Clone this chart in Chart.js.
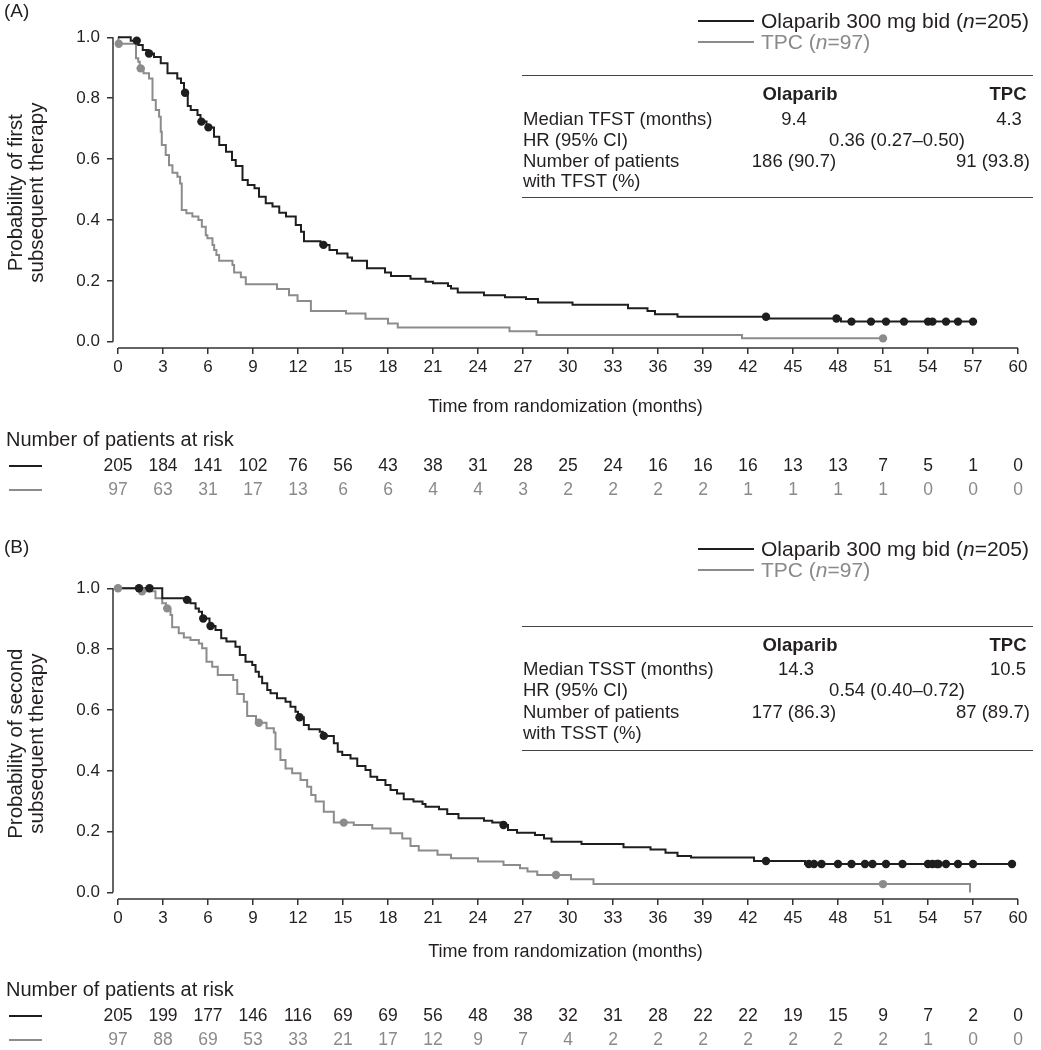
<!DOCTYPE html>
<html>
<head>
<meta charset="utf-8">
<script src="https://cdn.jsdelivr.net/npm/chart.js@4.4.1/dist/chart.umd.min.js"></script>
<style>
  body { margin: 0; background: #fff; width: 1041px; height: 1050px; position: relative; overflow: hidden;
         font-family: "Liberation Sans", Arial, sans-serif; color: #231f20; }
  canvas { position: absolute; left: 0; }
  .t { position: absolute; white-space: nowrap; font-size: 18.5px; transform: translateY(-50%); }
  .lg { font-size: 21px; }
  .c { transform: translate(-50%, -50%); }
  .b { font-weight: bold; }
  .g { color: #8a8a8a; }
  .rule { position: absolute; height: 0; border-top: 1.5px solid #444; }
  .sw { position: absolute; height: 0; width: 56px; border-top: 2px solid #1e1e1e; }
  .sw.g { border-top-color: #8c8c8c; }
</style>
</head>
<body>
<canvas id="chartA" width="1041" height="520" style="top:0"></canvas>
<canvas id="chartB" width="1041" height="530" style="top:520px"></canvas>

<!-- panel A legend + table -->
<div class="t" style="left:4px;top:11px;font-size:19px">(A)</div>
<div class="sw" style="left:698px;top:20px"></div>
<div class="t lg" style="left:761px;top:21px">Olaparib 300 mg bid (<i>n</i>=205)</div>
<div class="sw g" style="left:698px;top:41px"></div>
<div class="t lg g" style="left:761px;top:42px">TPC (<i>n</i>=97)</div>
<div class="rule" style="left:522px;width:511px;top:75px"></div>
<div class="t c b" style="left:800px;top:94px">Olaparib</div>
<div class="t c b" style="left:1008px;top:94px">TPC</div>
<div class="t" style="left:523px;top:119px">Median TFST (months)</div>
<div class="t c" style="left:794px;top:119px">9.4</div>
<div class="t c" style="left:1009px;top:119px">4.3</div>
<div class="t" style="left:523px;top:140px">HR (95% CI)</div>
<div class="t c" style="left:897px;top:140px">0.36 (0.27–0.50)</div>
<div class="t" style="left:523px;top:161px">Number of patients</div>
<div class="t c" style="left:794px;top:161px">186 (90.7)</div>
<div class="t c" style="left:993px;top:161px">91 (93.8)</div>
<div class="t" style="left:523px;top:181px">with TFST (%)</div>
<div class="rule" style="left:522px;width:511px;top:197px"></div>

<!-- panel B legend + table -->
<div class="t" style="left:4px;top:547px;font-size:19px">(B)</div>
<div class="sw" style="left:698px;top:548px"></div>
<div class="t lg" style="left:761px;top:549px">Olaparib 300 mg bid (<i>n</i>=205)</div>
<div class="sw g" style="left:698px;top:569px"></div>
<div class="t lg g" style="left:761px;top:570px">TPC (<i>n</i>=97)</div>
<div class="rule" style="left:522px;width:511px;top:626px"></div>
<div class="t c b" style="left:800px;top:645px">Olaparib</div>
<div class="t c b" style="left:1008px;top:645px">TPC</div>
<div class="t" style="left:523px;top:669px">Median TSST (months)</div>
<div class="t c" style="left:796px;top:669px">14.3</div>
<div class="t c" style="left:1008px;top:669px">10.5</div>
<div class="t" style="left:523px;top:690px">HR (95% CI)</div>
<div class="t c" style="left:897px;top:690px">0.54 (0.40–0.72)</div>
<div class="t" style="left:523px;top:712px">Number of patients</div>
<div class="t c" style="left:794px;top:712px">177 (86.3)</div>
<div class="t c" style="left:993px;top:712px">87 (89.7)</div>
<div class="t" style="left:523px;top:733px">with TSST (%)</div>
<div class="rule" style="left:522px;width:511px;top:750px"></div>

<script>
// axis ticks (months / probability)
const xTicks = [0, 3, 6, 9, 12, 15, 18, 21, 24, 27, 30, 33, 36, 39, 42, 45, 48, 51, 54, 57, 60];
const yTicks = [0, 0.2, 0.4, 0.6, 0.8, 1.0];

// (A) time to first subsequent therapy - step times and survival
const olapA_t = [0, 0.85, 1.35, 1.65, 2.0, 2.4, 2.85, 3.3, 3.95, 4.2, 4.4, 4.65, 4.85, 5.3, 5.5, 5.9, 6.4, 6.75, 7.2, 7.6, 7.85, 8.3, 8.65, 9.1, 9.4, 9.85, 10.3, 10.75, 11.2, 11.85, 12.2, 12.4, 13.5, 14.1, 14.6, 15.3, 15.6, 16.6, 17.8, 18.2, 19.5, 20.5, 21.0, 22.0, 22.2, 22.65, 24.4, 25.8, 27.2, 28.0, 30.3, 34.0, 35.3, 35.8, 37.3, 43.3, 48.2, 57.0];
const olapA_s = [1.0, 0.989, 0.975, 0.958, 0.947, 0.935, 0.915, 0.882, 0.865, 0.85, 0.818, 0.774, 0.761, 0.745, 0.723, 0.704, 0.673, 0.646, 0.624, 0.597, 0.577, 0.531, 0.515, 0.504, 0.476, 0.455, 0.444, 0.424, 0.411, 0.383, 0.361, 0.33, 0.318, 0.301, 0.29, 0.277, 0.266, 0.241, 0.227, 0.216, 0.207, 0.197, 0.192, 0.183, 0.175, 0.162, 0.153, 0.146, 0.14, 0.129, 0.121, 0.11, 0.101, 0.09, 0.082, 0.076, 0.066, 0.066];
const olapA_cens = [1.25, 2.07, 4.47, 5.56, 6.03, 13.7, 43.2, 47.9, 48.9, 50.2, 51.2, 52.4, 54.0, 54.3, 55.2, 56.0, 57.0];
const tpcA_t = [0, 0.03, 1.2, 1.35, 1.45, 1.7, 2.07, 2.3, 2.52, 2.74, 2.85, 2.92, 3.18, 3.4, 3.63, 3.96, 4.14, 4.25, 4.56, 4.96, 5.36, 5.59, 5.85, 5.96, 6.3, 6.41, 6.56, 6.74, 7.63, 7.74, 8.19, 8.52, 10.6, 11.4, 11.97, 12.86, 15.2, 16.5, 18.0, 18.65, 26.1, 27.9, 41.6, 51.0];
const tpcA_s = [1.0, 0.979, 0.931, 0.92, 0.898, 0.882, 0.865, 0.794, 0.761, 0.739, 0.69, 0.646, 0.613, 0.58, 0.555, 0.542, 0.52, 0.433, 0.422, 0.411, 0.4, 0.378, 0.35, 0.34, 0.318, 0.301, 0.285, 0.266, 0.252, 0.227, 0.212, 0.189, 0.173, 0.153, 0.134, 0.101, 0.093, 0.075, 0.06, 0.047, 0.034, 0.022, 0.011, 0.011];
const tpcA_cens = [0.05, 1.51, 51.0];
const riskA_olap = [205, 184, 141, 102, 76, 56, 43, 38, 31, 28, 25, 24, 16, 16, 16, 13, 13, 7, 5, 1, 0];
const riskA_tpc = [97, 63, 31, 17, 13, 6, 6, 4, 4, 3, 2, 2, 2, 2, 1, 1, 1, 1, 0, 0, 0];

// (B) time to second subsequent therapy
const olapB_t = [0, 2.95, 4.4, 4.83, 5.17, 5.39, 5.6, 6.1, 6.5, 6.88, 7.23, 7.83, 8.12, 8.5, 8.95, 9.17, 9.39, 9.61, 9.95, 10.17, 10.6, 11.17, 11.5, 11.83, 12.0, 12.39, 12.72, 13.45, 13.65, 14.39, 14.65, 14.95, 15.5, 15.95, 16.5, 16.83, 17.28, 17.83, 18.17, 18.6, 19.05, 19.7, 20.3, 20.5, 21.4, 21.95, 22.7, 24.4, 24.95, 25.6, 26.0, 26.6, 27.8, 28.4, 28.9, 30.9, 33.7, 35.5, 36.5, 37.3, 38.2, 42.4, 45.8, 59.6];
const olapB_s = [1.0, 0.967, 0.962, 0.951, 0.934, 0.923, 0.901, 0.876, 0.863, 0.836, 0.825, 0.808, 0.781, 0.759, 0.748, 0.726, 0.709, 0.688, 0.666, 0.655, 0.639, 0.627, 0.611, 0.594, 0.576, 0.551, 0.537, 0.529, 0.515, 0.491, 0.463, 0.452, 0.441, 0.416, 0.403, 0.381, 0.37, 0.354, 0.337, 0.326, 0.307, 0.299, 0.291, 0.282, 0.274, 0.258, 0.244, 0.236, 0.23, 0.222, 0.206, 0.197, 0.189, 0.178, 0.167, 0.16, 0.149, 0.142, 0.131, 0.12, 0.115, 0.104, 0.094, 0.094];
const olapB_cens = [1.4, 2.1, 4.6, 5.68, 6.17, 12.1, 13.72, 25.7, 43.2, 46.05, 46.4, 46.9, 48.0, 48.9, 49.8, 50.3, 51.2, 52.3, 54.0, 54.3, 54.6, 54.7, 55.2, 56.0, 57.0, 59.6];
const tpcB_t = [0, 1.4, 2.5, 2.95, 3.2, 3.5, 3.61, 4.05, 4.39, 4.83, 5.39, 5.61, 5.9, 6.28, 6.65, 7.68, 7.95, 8.39, 8.61, 9.2, 9.9, 10.39, 10.5, 10.83, 11.17, 11.61, 12.17, 12.61, 12.88, 13.17, 13.72, 14.39, 15.72, 16.95, 18.17, 18.95, 19.5, 20.05, 21.3, 22.2, 24.0, 25.7, 26.8, 27.3, 27.95, 30.2, 31.7, 56.8];
const tpcB_s = [1.0, 0.99, 0.967, 0.951, 0.934, 0.912, 0.872, 0.852, 0.838, 0.83, 0.819, 0.803, 0.759, 0.742, 0.715, 0.699, 0.653, 0.627, 0.58, 0.558, 0.54, 0.526, 0.471, 0.436, 0.408, 0.392, 0.37, 0.348, 0.321, 0.299, 0.266, 0.23, 0.222, 0.211, 0.195, 0.178, 0.153, 0.138, 0.124, 0.113, 0.102, 0.091, 0.08, 0.069, 0.058, 0.044, 0.028, 0.0];
const tpcB_cens = [0.0, 1.6, 3.28, 9.39, 15.05, 29.2, 51.0];
const riskB_olap = [205, 199, 177, 146, 116, 69, 69, 56, 48, 38, 32, 31, 28, 22, 22, 19, 15, 9, 7, 2, 0];
const riskB_tpc = [97, 88, 69, 53, 33, 21, 17, 12, 9, 7, 4, 2, 2, 2, 2, 2, 2, 2, 1, 0, 0];

const BLACK = '#1e1e1e';
const GRAY = '#8c8c8c';
const AXIS = '#333333';
const FONT_FAMILY = '"Liberation Sans", Arial, sans-serif';

Chart.defaults.font.family = FONT_FAMILY;
Chart.defaults.font.size = 17;
Chart.defaults.color = '#231f20';

// value of the step curve at time t (used to sit the censor marks on the line)
function stepAt(ts, ss, t) {
  let v = ss[0];
  for (let i = 0; i < ts.length; i++) {
    if (ts[i] <= t) v = ss[i];
  }
  return v;
}

function curve(ts, ss) {
  return ts.map((t, i) => ({ x: t, y: ss[i] }));
}

function marks(ts, ss, cens) {
  return cens.map(t => ({ x: t, y: stepAt(ts, ss, t) }));
}

function kmExtras(risk) {
  return {
    id: 'kmExtras',
    afterDraw(chart) {
      const ctx = chart.ctx;
      const xs = chart.scales.x, ys = chart.scales.y;
      ctx.save();
      // separate axis lines, spanning first to last tick only
      ctx.strokeStyle = AXIS;
      ctx.lineWidth = 1.5;
      ctx.beginPath();
      ctx.moveTo(ys.right, ys.getPixelForValue(yTicks[yTicks.length - 1]));
      ctx.lineTo(ys.right, ys.getPixelForValue(yTicks[0]));
      ctx.moveTo(xs.getPixelForValue(xTicks[0]), xs.top);
      ctx.lineTo(xs.getPixelForValue(xTicks[xTicks.length - 1]), xs.top);
      ctx.stroke();

      // number at risk table
      ctx.font = '20px ' + FONT_FAMILY;
      ctx.textBaseline = 'middle';
      ctx.textAlign = 'left';
      ctx.fillStyle = '#231f20';
      ctx.fillText('Number of patients at risk', 6, risk.headY);
      ctx.font = '17.5px ' + FONT_FAMILY;
      const rows = [
        { vals: risk.olap, line: BLACK, text: '#231f20', y: risk.row1Y },
        { vals: risk.tpc, line: GRAY, text: '#8a8a8a', y: risk.row2Y }
      ];
      rows.forEach(r => {
        ctx.strokeStyle = r.line;
        ctx.lineWidth = 2;
        ctx.beginPath();
        ctx.moveTo(9, r.y);
        ctx.lineTo(42, r.y);
        ctx.stroke();
        ctx.fillStyle = r.text;
        ctx.textAlign = 'center';
        r.vals.forEach((v, i) => {
          ctx.fillText(String(v), xs.getPixelForValue(xTicks[i]), r.y);
        });
      });
      ctx.restore();
    }
  };
}

function makeKM(id, cfg) {
  const H = cfg.height;
  const xScaleBottom = cfg.titleY + 10.8 + 3;
  new Chart(document.getElementById(id), {
    type: 'line',
    data: {
      datasets: [
        { data: marks(cfg.olapT, cfg.olapS, cfg.olapCens), showLine: false, pointRadius: 4.2,
          pointBackgroundColor: BLACK, pointBorderWidth: 0, clip: false },
        { data: marks(cfg.tpcT, cfg.tpcS, cfg.tpcCens), showLine: false, pointRadius: 4.2,
          pointBackgroundColor: GRAY, pointBorderWidth: 0, clip: false },
        { data: curve(cfg.olapT, cfg.olapS), stepped: 'before', borderColor: BLACK, borderWidth: 2,
          pointRadius: 0, fill: false, clip: false },
        { data: curve(cfg.tpcT, cfg.tpcS), stepped: 'before', borderColor: GRAY, borderWidth: 2,
          pointRadius: 0, fill: false, clip: false }
      ]
    },
    options: {
      responsive: false,
      animation: false,
      events: [],
      layout: { padding: { left: 0, top: cfg.top, right: 1041 - 1018, bottom: H - xScaleBottom } },
      plugins: { legend: { display: false }, tooltip: { enabled: false } },
      scales: {
        x: {
          type: 'linear',
          min: -1 / 3,
          max: 60,
          afterBuildTicks: s => { s.ticks = xTicks.map(v => ({ value: v })); },
          afterFit: s => { s.height = xScaleBottom - cfg.bottom; },
          ticks: { autoSkip: false, maxRotation: 0, padding: 3, color: '#231f20', callback: v => String(v) },
          grid: { display: true, drawOnChartArea: false, drawTicks: true, tickLength: 6, color: AXIS, lineWidth: 1.5 },
          border: { display: false },
          title: { display: true, text: 'Time from randomization (months)', padding: { top: 0, bottom: 3 },
                   font: { size: 18 }, color: '#231f20' }
        },
        y: {
          type: 'linear',
          min: -(cfg.bottom - cfg.zeroY) / (cfg.zeroY - cfg.top),
          max: 1.0,
          afterBuildTicks: s => { s.ticks = yTicks.map(v => ({ value: v })); },
          afterFit: s => { s.width = 113; },
          ticks: { padding: 7, color: '#231f20', callback: v => v.toFixed(1) },
          grid: { display: true, drawOnChartArea: false, drawTicks: true, tickLength: 6, color: AXIS, lineWidth: 1.5 },
          border: { display: false },
          title: { display: true, text: cfg.yTitle, padding: { top: 5.5, bottom: 0 },
                   font: { size: 20.5, lineHeight: 1.03 }, color: '#231f20' }
        }
      }
    },
    plugins: [kmExtras(cfg.risk)]
  });
}

makeKM('chartA', {
  height: 520, top: 37.3, zeroY: 341.7, bottom: 348, titleY: 407,
  yTitle: ['Probability of first', 'subsequent therapy'],
  olapT: olapA_t, olapS: olapA_s, olapCens: olapA_cens,
  tpcT: tpcA_t, tpcS: tpcA_s, tpcCens: tpcA_cens,
  risk: { olap: riskA_olap, tpc: riskA_tpc, headY: 440, row1Y: 466, row2Y: 490 }
});

makeKM('chartB', {
  height: 530, top: 68.3, zeroY: 372.6, bottom: 379, titleY: 432,
  yTitle: ['Probability of second', 'subsequent therapy'],
  olapT: olapB_t, olapS: olapB_s, olapCens: olapB_cens,
  tpcT: tpcB_t, tpcS: tpcB_s, tpcCens: tpcB_cens,
  risk: { olap: riskB_olap, tpc: riskB_tpc, headY: 470, row1Y: 496, row2Y: 520 }
});
</script>
</body>
</html>
